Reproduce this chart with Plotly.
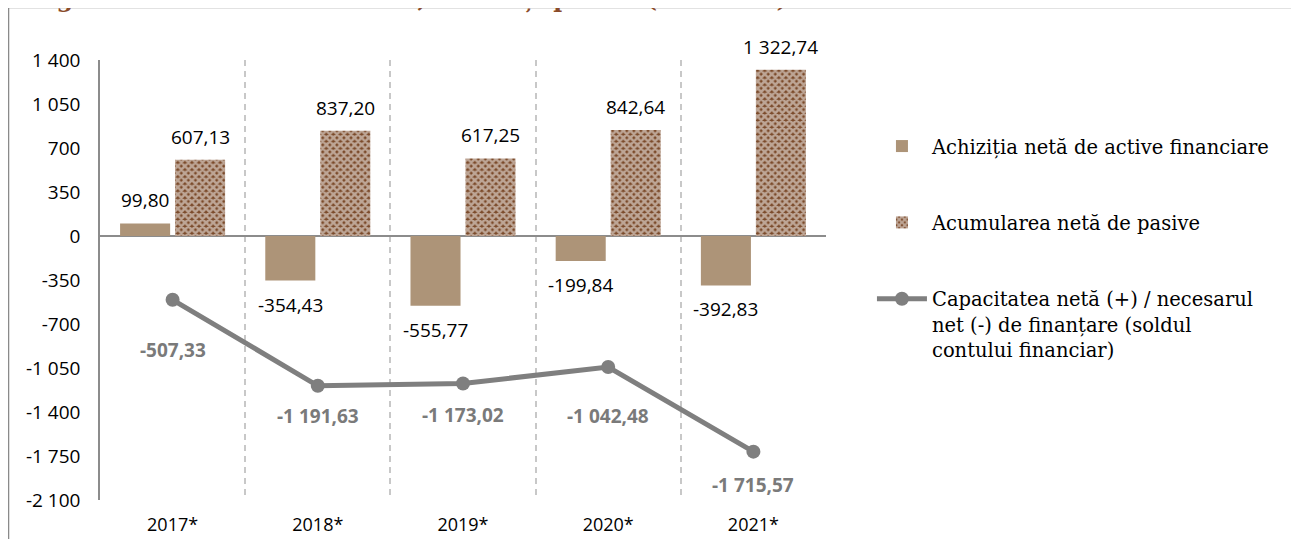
import plotly.graph_objects as go

# ---- data ----
years = ["2017*", "2018*", "2019*", "2020*", "2021*"]
net_assets = [99.80, -354.43, -555.77, -199.84, -392.83]
net_liabilities = [607.13, 837.20, 617.25, 842.64, 1322.74]
net_balance = [-507.33, -1191.63, -1173.02, -1042.48, -1715.57]

y_tick_values = [1400, 1050, 700, 350, 0, -350, -700, -1050, -1400, -1750, -2100]
y_tick_labels = ["1 400", "1 050", "700", "350", "0", "-350", "-700", "-1 050", "-1 400", "-1 750", "-2 100"]

name_assets = "Achiziția netă de active financiare"
name_liab = "Acumularea netă de pasive"
name_balance = "Capacitatea netă (+) / necesarul<br>net (-) de finanțare (soldul<br>contului financiar)"
title_text = "Diagrama 6.3 Contul financiar, active și pasive (mil. USD)"

# label vertical offsets for the line labels (px)
balance_label_shift = [-50, -30, -32, -49, -33]


def fmt(v):
    s = f"{v:,.2f}"
    return s.replace(",", " ").replace(".", ",")


SANS = "Open Sans"
SERIF = "DejaVu Serif"
BROWN = "#ad9478"
PAT = "#7b4a2a"
GRAY = "#7f7f7f"

fig = go.Figure()
fig.add_trace(go.Bar(
    x=years, y=net_assets, name=name_assets, marker=dict(color=BROWN, line=dict(width=0)),
    legendgroup="a", hoverinfo="skip"))
fig.add_trace(go.Bar(
    x=years, y=net_liabilities, name=name_liab,
    marker=dict(color=PAT, line=dict(width=0),
                pattern=dict(shape="x", size=5, solidity=0.75, fgcolor="white", bgcolor=PAT)),
    legendgroup="b", hoverinfo="skip"))
fig.add_trace(go.Scatter(
    x=years, y=net_balance, name=name_balance, mode="lines+markers",
    line=dict(color=GRAY, width=5), marker=dict(size=14, color=GRAY),
    legendgroup="c", hoverinfo="skip", cliponaxis=False))

ann = []
for yr, v in zip(years, net_assets):
    ann.append(dict(x=yr, y=v, xref="x", yref="y", text=fmt(v), showarrow=False,
                    xshift=-27.5, yshift=23 if v >= 0 else -24, yanchor="middle",
                    font=dict(family=SANS, size=19, color="#000000")))
for yr, v in zip(years, net_liabilities):
    ann.append(dict(x=yr, y=v, xref="x", yref="y", text=fmt(v), showarrow=False,
                    xshift=27.5, yshift=23 if v >= 0 else -24, yanchor="middle",
                    font=dict(family=SANS, size=19, color="#000000")))
for yr, v, sh in zip(years, net_balance, balance_label_shift):
    ann.append(dict(x=yr, y=v, xref="x", yref="y", text=fmt(v), showarrow=False,
                    yshift=sh, yanchor="middle",
                    font=dict(family=SANS, size=19, color="#7a7a7a", weight="bold")))
ann.append(dict(x=0.95, y=1, xref="paper", yref="paper", xanchor="right", yanchor="bottom",
                yshift=45, text=f"<b>{title_text}</b>", showarrow=False,
                font=dict(family=SERIF, size=24, color="#8a4b2a")))

fig.update_layout(
    width=1291, height=531,
    margin=dict(l=92, r=473, t=52, b=39, autoexpand=False),
    paper_bgcolor="white", plot_bgcolor="white",
    barmode="group", bargap=0.2425, bargroupgap=0.09,
    font=dict(family=SANS, size=18, color="#000000"),
    annotations=ann,
    showlegend=True,
    legend=dict(x=1.0633, y=0.848, xanchor="left", yanchor="top",
                font=dict(family=SERIF, size=19.5, color="#000000"),
                itemwidth=50, traceorder="grouped", tracegroupgap=48,
                valign="top", bgcolor="rgba(0,0,0,0)"),
    shapes=[dict(type="rect", xref="paper", yref="paper",
                 x0=-0.126, x1=1.648, y0=-0.1023, y1=1.1193,
                 line=dict(color="#8a8a8a", width=1.5), fillcolor="rgba(0,0,0,0)", layer="below")],
)
fig.update_xaxes(type="category", tickson="boundaries", showgrid=True, gridcolor="#c8c8c8",
                 gridwidth=1.5, griddash="6px,5px", ticks="", showline=False, zeroline=False,
                 automargin=False,
                 ticklabelstandoff=12, tickfont=dict(family=SANS, size=18, color="#000000"))
fig.update_yaxes(range=[-2100, 1400], tickvals=y_tick_values, ticktext=y_tick_labels,
                 showgrid=False, showline=True, linecolor="#8c8c8c", linewidth=1.5,
                 zeroline=True, zerolinecolor="#8c8c8c", zerolinewidth=1.5, ticks="",
                 automargin=False,
                 ticklabelstandoff=14, tickfont=dict(family=SANS, size=19, color="#000000"))

fig.write_html("out.html")
